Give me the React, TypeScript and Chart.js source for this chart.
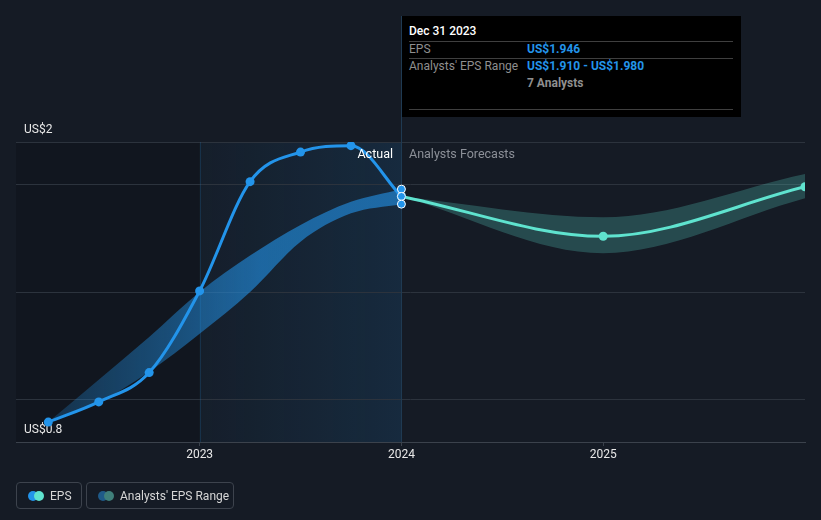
import React, { useEffect, useRef } from "react";
import { Chart, registerables } from "chart.js";

Chart.register(...registerables);

// ---- data ----
const actualDates = [2022.25, 2022.5, 2022.75, 2023.0, 2023.25, 2023.5, 2023.75, 2024.0];
const actualEps = [0.893, 0.987, 1.124, 1.505, 2.015, 2.153, 2.183, 1.946];
const pastRangeHigh = [0.893, 1.09, 1.29, 1.5, 1.67, 1.813, 1.921, 1.98];
const pastRangeLow = [0.893, 0.985, 1.128, 1.305, 1.5, 1.735, 1.867, 1.91];

const forecastDates = [2024.0, 2025.0, 2026.0];
const forecastEps = [1.946, 1.76, 1.991];
const forecastHigh = [1.946, 1.849, 2.051];
const forecastLow = [1.946, 1.681, 1.937];

const markerDate = 2024.0;
const markerValues = [1.98, 1.946, 1.91];

const xTickValues = [2023, 2024, 2025];
const xTickLabels = ["2023", "2024", "2025"];
const yTickValues = [0.8, 1.0, 1.5, 2.0, 2.2];
const yTickLabels = ["US$0.8", "", "", "", "US$2"];

const xMin = 2022.09;
const xMax = 2026.0;
const yMin = 0.8;
const yMax = 2.2;
const actualStart = 2023.0;
const actualEnd = 2024.0;

const BLUE = "#2394ea";
const TEAL = "#5fe3cf";
const BG = "#151b25";

const pts = (xs: number[], ys: number[]) => xs.map((x, i) => ({ x, y: ys[i] }));

const shadePlugin = {
  id: "shade",
  beforeDraw(chart: any) {
    const { ctx, chartArea, scales } = chart;
    const x = scales.x;
    const x0 = x.getPixelForValue(actualStart);
    const x1 = x.getPixelForValue(actualEnd);
    ctx.save();
    ctx.fillStyle = "rgba(0,0,0,0.16)";
    ctx.fillRect(chartArea.left, chartArea.top, x0 - chartArea.left, chartArea.bottom - chartArea.top);
    const g = ctx.createLinearGradient(x0, 0, x1, 0);
    g.addColorStop(0, "rgba(35,148,234,0.03)");
    g.addColorStop(1, "rgba(35,148,234,0.13)");
    ctx.fillStyle = g;
    ctx.fillRect(x0, chartArea.top, x1 - x0, chartArea.bottom - chartArea.top);
    ctx.restore();
  },
  beforeDatasetsDraw(chart: any) {
    const { ctx, chartArea, scales } = chart;
    const x = scales.x;
    const x0 = Math.round(x.getPixelForValue(actualStart)) + 0.5;
    const x1 = Math.round(x.getPixelForValue(actualEnd)) + 0.5;
    ctx.save();
    ctx.lineWidth = 1;
    ctx.strokeStyle = "rgba(35,148,234,0.16)";
    ctx.beginPath();
    ctx.moveTo(x0, chartArea.top);
    ctx.lineTo(x0, chartArea.bottom);
    ctx.stroke();
    ctx.strokeStyle = "#1f3a52";
    ctx.beginPath();
    ctx.moveTo(x1, 16);
    ctx.lineTo(x1, chartArea.bottom);
    ctx.stroke();
    ctx.restore();
  },
};

function pastBandColor(context: any) {
  const chart = context.chart;
  const { chartArea, scales } = chart;
  if (!chartArea) return "rgba(35,148,234,0.5)";
  const g = chart.ctx.createLinearGradient(
    scales.x.getPixelForValue(actualDates[0]), 0,
    scales.x.getPixelForValue(2023.3), 0
  );
  g.addColorStop(0, "rgba(35,148,234,0.22)");
  g.addColorStop(1, "rgba(35,148,234,0.6)");
  return g;
}

function ChartCanvas() {
  const ref = useRef<HTMLCanvasElement | null>(null);
  useEffect(() => {
    if (!ref.current) return;
    Chart.defaults.font.family = "Roboto";
    const chart = new Chart(ref.current, {
      type: "line",
      data: {
        datasets: [
          {
            data: markerValues.map((v) => ({ x: markerDate, y: v })),
            showLine: false,
            pointRadius: 4,
            pointBackgroundColor: BLUE,
            pointBorderColor: "#ffffff",
            pointBorderWidth: 1,
            order: 0,
            clip: false,
          } as any,
          {
            data: pts(actualDates, actualEps),
            borderColor: BLUE,
            borderWidth: 3,
            pointRadius: 4.5,
            pointBackgroundColor: BLUE,
            pointBorderWidth: 0,
            cubicInterpolationMode: "monotone",
            fill: false,
            order: 1,
          },
          {
            data: pts(forecastDates, forecastEps),
            borderColor: TEAL,
            borderWidth: 3,
            pointRadius: 4.5,
            pointBackgroundColor: TEAL,
            pointBorderWidth: 0,
            cubicInterpolationMode: "monotone",
            fill: false,
            order: 2,
          },
          {
            data: pts(actualDates, pastRangeHigh),
            borderWidth: 0,
            pointRadius: 0,
            cubicInterpolationMode: "monotone",
            fill: "+1",
            backgroundColor: pastBandColor,
            order: 3,
          },
          {
            data: pts(actualDates, pastRangeLow),
            borderWidth: 0,
            pointRadius: 0,
            cubicInterpolationMode: "monotone",
            fill: false,
            order: 4,
          },
          {
            data: pts(forecastDates, forecastHigh),
            borderWidth: 0,
            pointRadius: 0,
            cubicInterpolationMode: "monotone",
            fill: "+1",
            backgroundColor: "rgba(95,227,207,0.24)",
            order: 5,
          },
          {
            data: pts(forecastDates, forecastLow),
            borderWidth: 0,
            pointRadius: 0,
            cubicInterpolationMode: "monotone",
            fill: false,
            order: 6,
          },
        ],
      },
      options: {
        animation: false,
        responsive: false,
        maintainAspectRatio: false,
        layout: { padding: { left: 16, right: 16, top: 142, bottom: 0 } },
        plugins: { legend: { display: false }, tooltip: { enabled: false } },
        events: [],
        scales: {
          x: {
            type: "linear",
            min: xMin,
            max: xMax,
            afterBuildTicks: (axis: any) => {
              axis.ticks = xTickValues.map((v) => ({ value: v }));
            },
            afterFit: (scale: any) => {
              scale.height = 78;
            },
            ticks: {
              callback: (_v: any, i: number) => xTickLabels[i],
              color: "#e8e8e8",
              font: { size: 12 },
              padding: 2,
              maxRotation: 0,
              autoSkip: false,
            },
            grid: {
              drawOnChartArea: false,
              drawTicks: true,
              tickLength: 4,
              color: "#3b424c",
            },
            border: { color: "#3b424c" },
          },
          y: {
            type: "linear",
            min: yMin,
            max: yMax,
            afterBuildTicks: (axis: any) => {
              axis.ticks = yTickValues.map((v) => ({ value: v }));
            },
            afterFit: (scale: any) => {
              scale.width = 0;
            },
            ticks: {
              callback: (_v: any, i: number) => yTickLabels[i],
              mirror: true,
              padding: 8,
              labelOffset: -12,
              color: "#e8e8e8",
              font: { size: 12 },
              autoSkip: false,
            },
            grid: { color: "#2c333d", drawTicks: false },
            border: { display: false },
          },
        },
      },
      plugins: [shadePlugin],
    });
    return () => chart.destroy();
  }, []);
  return <canvas ref={ref} width={821} height={520} style={{ position: "absolute", left: 0, top: 0 }} />;
}

const textBase: React.CSSProperties = {
  position: "absolute",
  fontFamily: "Roboto, sans-serif",
  fontSize: 12,
  lineHeight: "14px",
  whiteSpace: "nowrap",
};

function Dot({ left, color }: { left: number; color: string }) {
  return (
    <div
      style={{
        position: "absolute",
        left,
        top: 8,
        width: 10,
        height: 10,
        borderRadius: 5,
        background: color,
      }}
    />
  );
}

export default function App() {
  return (
    <div
      style={{
        position: "absolute",
        left: 0,
        top: 0,
        width: 821,
        height: 520,
        background: BG,
        overflow: "hidden",
      }}
    >
      <ChartCanvas />
      {/* tooltip box */}
      <div
        style={{
          position: "absolute",
          left: 402,
          top: 16,
          width: 339,
          height: 101,
          background: "#000000",
        }}
      >
        <div style={{ ...textBase, left: 7, top: 8, color: "#ffffff", fontWeight: 500 }}>Dec 31 2023</div>
        <div style={{ position: "absolute", left: 7, top: 25, width: 324, height: 1, background: "#3f3f3f" }} />
        <div style={{ ...textBase, left: 7, top: 26, color: "#8f8f8f" }}>EPS</div>
        <div style={{ ...textBase, left: 125, top: 26, color: BLUE, fontWeight: 700 }}>US$1.946</div>
        <div style={{ position: "absolute", left: 7, top: 42, width: 324, height: 1, background: "#3f3f3f" }} />
        <div style={{ ...textBase, left: 7, top: 43, color: "#8f8f8f" }}>Analysts' EPS Range</div>
        <div style={{ ...textBase, left: 125, top: 43, color: BLUE, fontWeight: 700 }}>US$1.910 - US$1.980</div>
        <div style={{ ...textBase, left: 125, top: 60, color: "#8f8f8f", fontWeight: 700 }}>7 Analysts</div>
        <div style={{ position: "absolute", left: 7, top: 93, width: 324, height: 1, background: "#3f3f3f" }} />
      </div>
      {/* region labels */}
      <div style={{ ...textBase, right: 821 - 393, top: 147, color: "#ffffff", fontSize: 12.5 }}>Actual</div>
      <div style={{ ...textBase, left: 409, top: 147, color: "#8c9098", fontSize: 12.5 }}>Analysts Forecasts</div>
      {/* legend */}
      <div
        style={{
          position: "absolute",
          left: 16,
          top: 482,
          width: 64,
          height: 25,
          border: "1px solid #3d434d",
          borderRadius: 4,
        }}
      >
        <Dot left={11} color={BLUE} />
        <Dot left={17} color={TEAL} />
        <div style={{ ...textBase, left: 33, top: 6, color: "#d6d6d6" }}>EPS</div>
      </div>
      <div
        style={{
          position: "absolute",
          left: 86,
          top: 482,
          width: 146,
          height: 25,
          border: "1px solid #3d434d",
          borderRadius: 4,
        }}
      >
        <Dot left={11} color="#1f5a88" />
        <Dot left={17} color="#3f7f7a" />
        <div style={{ ...textBase, left: 33, top: 6, color: "#d6d6d6" }}>Analysts' EPS Range</div>
      </div>
    </div>
  );
}
